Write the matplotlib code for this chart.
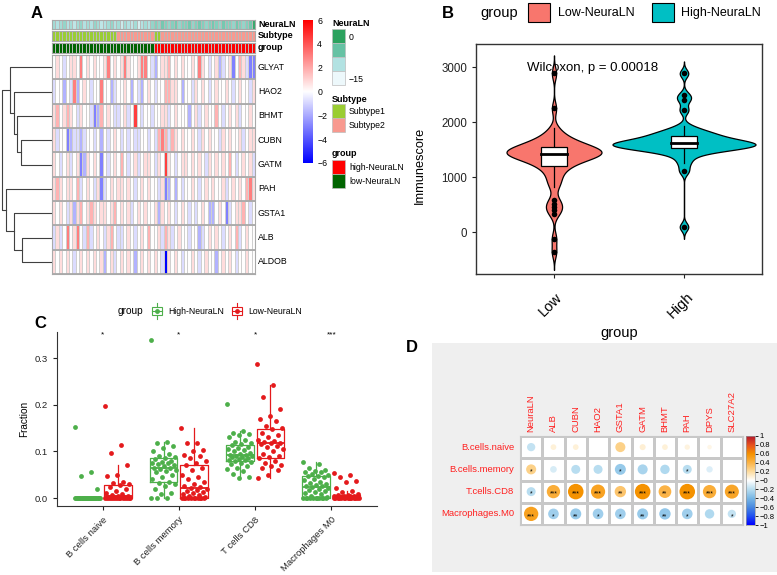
import numpy as np
import matplotlib.pyplot as plt
import matplotlib.transforms as mtransforms
from matplotlib.colors import LinearSegmentedColormap, ListedColormap
from matplotlib.patches import Rectangle, Circle

plt.rcParams['font.family'] = ['Liberation Sans', 'DejaVu Sans']

# ---------------- data: panel A (heatmap) ----------------
genes = ['GLYAT', 'HAO2', 'BHMT', 'CUBN', 'GATM', 'PAH', 'GSTA1', 'ALB', 'ALDOB']
# cell codes: . white, p/r/R/X reds, b/u/U/Z blues
level = {'.': 0, 'p': 0.8, 'r': 1.8, 'R': 3.0, 'X': 4.5,
         'b': -0.8, 'u': -1.8, 'U': -3.0, 'Z': -6.0}
expr_rows = [
    '.p.b.pp.R. p.p..pR.p. pRp..pRR.b u.ppr.p.p. .p.Rp.b.pu b.pU.rpbUU',
    'b..u.bRu.p .b..R..ub. .p.u.bu.p. b..rrpp.u. .bp.p.b.p. .p.b.p..bp',
    'pr.prp.bp. .bUur.p.bb .pb.X.b..b ..ppb.p... u.pb.p..r. b.p.pb..p.',
    'pb..Uubbub ..b.u.b.p. b.b.bb..b. brRrbrp.p. .p.bp.p..b p.p..pb.pp',
    'p.b.pb.pUu p.p.U.b.p. r.b.pb.pp. bp.Xp.b.pp .p.p.bp.p. p.r.b.p.pb',
    'prp.pp.rb. p.bpUb.p.p p.p.b.p.p. .bpUu.u.b. .p.b.p.p.. pb.p.p.rRp',
    'p.p.bpupr. prp.pp.pr. p.pb.p.p.. pup.p.b.p. b.b.p.uu.p .Ub.ppr.b.',
    'bpb.R.pR.b rb.p.bpr.b b.p.b.p.r. .pbrpb.p.. b..ub.p.p. b.p.rb.p..',
    'p.p.p.b.p. p.p.pu.pb. p.p.u.p.p. p.bZp.p.b. .p.b.p..u. p.p.b..p..',
]
neuraln_low = [-9, -10, -9, -8, -10, -9, -11, -9, -8, -10, -9, -10, -8, -9, -11,
               -10, -9, -8, -10, -9, -12, -9, -10, -11, -9, -13, -10, -9, -10, -8]
neuraln_high = [-7, -8, -6, -7, -8, -7, -6, -8, -7, -7, -6, -8, -7, -6, -7,
                -8, -7, -6, -7, -8, -6, -7, -7, -8, -6, -7, -8, -7, -6, -1]
subtype = [1] * 19 + [2] * 11 + [1] * 2 + [2] * 28
group_a = [0] * 30 + [1] * 30          # 0 low-NeuraLN, 1 high-NeuraLN
# dendrogram merges (left node, right node, height); leaves 0..8 in row order
merges = [(3, 4, 93), (2, 9, 105), (1, 10, 115), (0, 11, 125),
          (7, 8, 90), (6, 13, 115), (5, 14, 137), (12, 15, 150)]

# ---------------- data: panel B (violin) ----------------
low_score = [-358, -115, 339, 400, 461, 521, 582, 824, 900, 980, 1050, 1120, 1180,
             1200, 1230, 1260, 1290, 1310, 1330, 1350, 1370, 1380, 1390, 1400, 1410,
             1418, 1425, 1430, 1435, 1445, 1455, 1460, 1465, 1475, 1490, 1505, 1520,
             1540, 1552, 1560, 1570, 1580, 1600, 1620, 1650, 1680, 1700, 1750, 1800,
             1885, 2248, 2885]
high_score = [97, 1110, 1250, 1350, 1420, 1460, 1490, 1505, 1515, 1525, 1535, 1545,
              1555, 1565, 1575, 1585, 1595, 1605, 1610, 1615, 1620, 1630, 1640, 1650,
              1665, 1680, 1700, 1720, 1745, 1765, 1780, 1800, 1830, 1860, 1921, 2218,
              2400, 2491, 2885]

# ---------------- data: panel C (immune fractions) ----------------
cell_types = ['B cells naive', 'B cells memory', 'T cells CD8', 'Macrophages M0']
c_naive_high = [0.153, 0.055, 0.048, 0.019] + [0.0] * 30
c_naive_low = [0.197, 0.113, 0.097, 0.070, 0.050, 0.047, 0.035, 0.032, 0.030, 0.027,
               0.024, 0.020, 0.015, 0.010, 0.008, 0.006, 0.005, 0.004, 0.003, 0.002,
               0.002, 0.001, 0.001] + [0.0] * 12
c_memory_high = [0.339, 0.121, 0.118, 0.112, 0.108, 0.100, 0.095, 0.090, 0.088, 0.085,
                 0.083, 0.080, 0.078, 0.076, 0.075, 0.072, 0.070, 0.068, 0.065, 0.064,
                 0.063, 0.060, 0.058, 0.055, 0.050, 0.046, 0.040, 0.035, 0.033, 0.030,
                 0.025, 0.020, 0.010, 0.008, 0.0, 0.0, 0.0]
c_memory_low = [0.150, 0.119, 0.117, 0.103, 0.100, 0.093, 0.090, 0.085, 0.080, 0.075,
                0.070, 0.065, 0.060, 0.050, 0.045, 0.040, 0.035, 0.030, 0.025, 0.023,
                0.022, 0.020, 0.018, 0.015, 0.012, 0.010, 0.008, 0.006, 0.004, 0.002] + [0.0] * 11
c_cd8_high = [0.201, 0.143, 0.140, 0.138, 0.135, 0.130, 0.125, 0.120, 0.117, 0.115,
              0.113, 0.110, 0.108, 0.105, 0.102, 0.100, 0.097, 0.095, 0.093, 0.092,
              0.091, 0.090, 0.089, 0.088, 0.086, 0.084, 0.082, 0.081, 0.080, 0.078,
              0.075, 0.072, 0.068, 0.065, 0.062, 0.058, 0.052, 0.045, 0.042]
c_cd8_low = [0.287, 0.242, 0.217, 0.191, 0.175, 0.170, 0.165, 0.155, 0.150, 0.148,
             0.140, 0.135, 0.130, 0.125, 0.122, 0.120, 0.118, 0.117, 0.115, 0.112,
             0.110, 0.105, 0.100, 0.095, 0.090, 0.087, 0.085, 0.080, 0.075, 0.070,
             0.068, 0.065, 0.060, 0.050, 0.044]
c_m0_high = [0.078, 0.073, 0.065, 0.060, 0.058, 0.056, 0.055, 0.052, 0.050, 0.048,
             0.047, 0.045, 0.040, 0.038, 0.035, 0.033, 0.030, 0.028, 0.026, 0.025,
             0.024, 0.022, 0.020, 0.018, 0.015, 0.012, 0.010, 0.008, 0.005, 0.003] + [0.0] * 11
c_m0_low = [0.053, 0.050, 0.045, 0.037, 0.035, 0.022, 0.015, 0.012, 0.009, 0.007,
            0.006, 0.005, 0.005, 0.004, 0.004, 0.003, 0.003, 0.003, 0.002, 0.002,
            0.002, 0.001, 0.001, 0.001] + [0.0] * 12
c_signif = ['*', '*', '*', '***']

# ---------------- data: panel D (correlation) ----------------
d_rows = ['B.cells.naive', 'B.cells.memory', 'T.cells.CD8', 'Macrophages.M0']
d_cols = ['NeuraLN', 'ALB', 'CUBN', 'HAO2', 'GSTA1', 'GATM', 'BHMT', 'PAH', 'DPYS', 'SLC27A2']
d_r = [[-0.17, 0.08, 0.08, 0.0, 0.25, 0.09, 0.08, 0.07, 0.05, 0.0],
       [0.25, -0.11, -0.2, -0.2, -0.3, -0.25, -0.22, -0.2, -0.1, 0.0],
       [-0.2, 0.44, 0.6, 0.5, 0.32, 0.6, 0.4, 0.6, 0.44, 0.49],
       [0.51, -0.28, -0.3, -0.28, -0.28, -0.3, -0.32, -0.28, -0.22, -0.17]]
d_star = [['', '', '', '', '', '', '', '', '', ''],
          ['*', '', '', '', '*', '', '', '*', '', ''],
          ['*', '***', '***', '***', '**', '***', '**', '***', '***', '***'],
          ['***', '*', '**', '*', '*', '**', '**', '*', '', '*']]

# ---------------- figure ----------------
W, H = 777, 575
fig = plt.figure(figsize=(W / 100, H / 100), dpi=100)


def axes_px(x0, y0, x1, y1):
    return fig.add_axes([x0 / W, 1 - y1 / H, (x1 - x0) / W, (y1 - y0) / H])


bg = axes_px(0, 0, W, H)
bg.set_xlim(0, W); bg.set_ylim(H, 0); bg.axis('off'); bg.set_zorder(-5)
bg.add_patch(Rectangle((432, 343), 345, 229, facecolor='#EFEFEF', edgecolor='none'))

ov = axes_px(0, 0, W, H)
ov.set_xlim(0, W); ov.set_ylim(H, 0); ov.axis('off'); ov.set_zorder(20)

# ===== Panel A =====
expr = np.array([[level[c] for c in row.replace(' ', '')] for row in expr_rows])
ncol = expr.shape[1]
cmap_expr = LinearSegmentedColormap.from_list('bwr_ch', ['#0000FF', '#FFFFFF', '#FF0000'])
cmap_nl = LinearSegmentedColormap.from_list('bugn', ['#EDF8FB', '#B2E2E2', '#66C2A4', '#2CA25F'])

axd = axes_px(2, 55, 52, 274)
ypos = {i: i + 0.5 for i in range(len(genes))}
hgt = {i: 0 for i in range(len(genes))}
for k, (a, b, h) in enumerate(merges):
    axd.plot([hgt[a], h, h, hgt[b]], [ypos[a], ypos[a], ypos[b], ypos[b]],
             color='#404040', lw=0.8, clip_on=False)
    node = len(genes) + k
    ypos[node] = (ypos[a] + ypos[b]) / 2
    hgt[node] = h
axd.set_xlim(150, 0); axd.set_ylim(len(genes), 0); axd.axis('off')

axh = axes_px(52, 55, 255, 274)
axh.pcolormesh(expr, cmap=cmap_expr, vmin=-6, vmax=6, edgecolors='#CFCFCF', linewidth=0.4)
for r in range(len(genes) + 1):
    axh.axhline(r, color='#A9A9A9', lw=1.3)
axh.set_xlim(0, ncol); axh.set_ylim(len(genes), 0)
axh.set_xticks([]); axh.set_yticks([])
for s in axh.spines.values():
    s.set_color('#A9A9A9')
for i, g in enumerate(genes):
    ov.text(258, 55 + (i + 0.5) * 219 / len(genes), g, ha='left', va='center', fontsize=6.3)

annos = [
    (20, 29, 'NeuraLN', np.array(neuraln_low + neuraln_high), cmap_nl, -15, 0),
    (31, 41, 'Subtype', np.array(subtype), ListedColormap(['#9ACD32', '#F8998F']), 0.5, 2.5),
    (43, 53, 'group', np.array(group_a), ListedColormap(['#006400', '#FF0000']), -0.5, 1.5),
]
for y0, y1, name, vals, cm, vmin, vmax in annos:
    axa = axes_px(52, y0, 255, y1)
    axa.pcolormesh(vals[None, :], cmap=cm, vmin=vmin, vmax=vmax, edgecolors='#B8B8B8', linewidth=0.4)
    axa.set_xticks([]); axa.set_yticks([])
    for s in axa.spines.values():
        s.set_color('#A9A9A9')
    ov.text(258, (y0 + y1) / 2, name, ha='left', va='center', fontsize=6.5, fontweight='bold')

axc = axes_px(303, 20, 313, 163)
axc.imshow(np.linspace(-6, 6, 256)[:, None], aspect='auto', cmap=cmap_expr,
           origin='lower', extent=[0, 1, -6, 6])
axc.set_xticks([]); axc.yaxis.tick_right()
axc.set_yticks([-6, -4, -2, 0, 2, 4, 6])
axc.tick_params(length=0, labelsize=6.3, pad=3)
for s in axc.spines.values():
    s.set_visible(False)

# annotation legends
ov.text(332, 23, 'NeuraLN', fontsize=6.5, fontweight='bold', va='center')
for k, c in enumerate(['#2CA25F', '#66C2A4', '#B2E2E2', '#EDF8FB']):
    ov.add_patch(Rectangle((332, 29 + 14 * k), 13, 14, facecolor=c, edgecolor='#BDBDBD', lw=0.5))
ov.text(349, 37, '0', fontsize=6.3, va='center')
ov.text(349, 79, '\u221215', fontsize=6.3, va='center')
ov.text(332, 99, 'Subtype', fontsize=6.5, fontweight='bold', va='center')
for k, (c, t) in enumerate([('#9ACD32', 'Subtype1'), ('#F8998F', 'Subtype2')]):
    ov.add_patch(Rectangle((332, 104 + 14 * k), 13, 14, facecolor=c, edgecolor='#BDBDBD', lw=0.5))
    ov.text(349, 111 + 14 * k, t, fontsize=6.3, va='center')
ov.text(332, 154, 'group', fontsize=6.5, fontweight='bold', va='center')
for k, (c, t) in enumerate([('#FF0000', 'high-NeuraLN'), ('#006400', 'low-NeuraLN')]):
    ov.add_patch(Rectangle((332, 160 + 14 * k), 13, 14, facecolor=c, edgecolor='#BDBDBD', lw=0.5))
    ov.text(349, 167 + 14 * k, t, fontsize=6.3, va='center')

# ===== Panel B =====
axB = axes_px(476, 44, 762, 274)
colors_b = ['#F8766D', '#00BFC4']
dens = []
for vals in (low_score, high_score):
    v = np.asarray(vals, float)
    iqr = np.subtract(*np.percentile(v, [75, 25]))
    bw = 0.9 * min(v.std(ddof=1), iqr / 1.34) * len(v) ** -0.2   # like R's bw.nrd0
    grid = np.linspace(v.min() - 3 * bw, v.max() + 3 * bw, 500)
    d = np.exp(-0.5 * ((grid[:, None] - v[None, :]) / bw) ** 2).sum(1) / (len(v) * bw * np.sqrt(2 * np.pi))
    dens.append((v, grid, d))
dmax = max(d.max() for _, _, d in dens)
for i, ((v, grid, d), col) in enumerate(zip(dens, colors_b)):
    x = i + 1
    hw = d / dmax * 0.55
    axB.fill_betweenx(grid, x - hw, x + hw, facecolor=col, edgecolor='black', lw=0.9, zorder=2)
    q1, med, q3 = np.percentile(v, [25, 50, 75])
    iqr = q3 - q1
    lo = v[v >= q1 - 1.5 * iqr].min()
    hi = v[v <= q3 + 1.5 * iqr].max()
    axB.plot([x, x], [lo, q1], color='black', lw=0.9, zorder=3)
    axB.plot([x, x], [q3, hi], color='black', lw=0.9, zorder=3)
    axB.add_patch(Rectangle((x - 0.1, q1), 0.2, q3 - q1, facecolor='white',
                            edgecolor='black', lw=0.9, zorder=4))
    axB.plot([x - 0.1, x + 0.1], [med, med], color='black', lw=2.0, zorder=5)
    out = v[(v < lo) | (v > hi)]
    axB.scatter(np.full(len(out), x), out, s=16, color='black', zorder=6, linewidths=0)
axB.text(0.79, 2990, 'Wilcoxon, p = 0.00018', fontsize=9.5, ha='left', va='center', zorder=1)
axB.set_xlim(0.4, 2.6); axB.set_ylim(-760, 3420)
axB.set_yticks([0, 1000, 2000, 3000])
axB.set_xticks([1, 2]); axB.set_xticklabels([])
axB.tick_params(length=3, labelsize=8.3, colors='#222222')
for s in axB.spines.values():
    s.set_color('#333333'); s.set_linewidth(1.0)
ov.text(420, 165, 'Immunescore', rotation=90, ha='center', va='center', fontsize=9.2)
tr = mtransforms.blended_transform_factory(axB.transData, fig.transFigure)
for x, lab in zip([1, 2], ['Low', 'High']):
    fig.text(x - 0.03, 1 - 305 / H, lab, transform=tr, rotation=45, ha='center', va='center', fontsize=10.5)
ov.text(619, 333, 'group', ha='center', va='center', fontsize=10.5)
# legend B
ov.text(448, 14, 'B', fontsize=12, fontweight='bold', ha='center', va='center')
ov.text(480, 13, 'group', fontsize=10.5, va='center')
ov.add_patch(Rectangle((528, 3), 22, 19, facecolor=colors_b[0], edgecolor='black', lw=0.8))
ov.text(558, 13, 'Low-NeuraLN', fontsize=9, va='center')
ov.add_patch(Rectangle((652, 3), 22, 19, facecolor=colors_b[1], edgecolor='black', lw=0.8))
ov.text(681, 13, 'High-NeuraLN', fontsize=9, va='center')

# ===== Panel C =====
axC = axes_px(57, 332, 377, 506)
green, red = '#4DAF4A', '#E41A1C'
high_sets = [c_naive_high, c_memory_high, c_cd8_high, c_m0_high]
low_sets = [c_naive_low, c_memory_low, c_cd8_low, c_m0_low]
for i in range(len(cell_types)):
    for vals, dx, col in ((high_sets[i], -0.2, green), (low_sets[i], 0.2, red)):
        v = np.asarray(vals, float)
        pos = i + 1 + dx
        axC.boxplot(v, positions=[pos], widths=0.36, showfliers=False, showcaps=False,
                    boxprops=dict(color=col, lw=0.9), whiskerprops=dict(color=col, lw=0.9),
                    medianprops=dict(color=col, lw=1.3), manage_ticks=False)
        jit = ((np.arange(len(v)) * 0.618034) % 1 - 0.5) * 0.34
        axC.scatter(pos + jit, v, s=12, color=col, zorder=3, linewidths=0)
    axC.text(i + 1, 0.35, c_signif[i], ha='center', va='center', fontsize=6)
axC.set_xlim(0.4, 4.6); axC.set_ylim(-0.017, 0.356)
axC.set_yticks([0, 0.1, 0.2, 0.3]); axC.set_yticklabels(['0.0', '0.1', '0.2', '0.3'])
axC.set_xticks(range(1, 5))
axC.set_xticklabels(cell_types, rotation=45, ha='right', va='top', rotation_mode='anchor')
axC.tick_params(length=3, labelsize=6.8, colors='#222222')
axC.spines['top'].set_visible(False); axC.spines['right'].set_visible(False)
for s in ('left', 'bottom'):
    axC.spines[s].set_color('#333333')
axC.set_ylabel('Fraction', fontsize=7.2)
ov.text(40, 324, 'C', fontsize=12, fontweight='bold', ha='center', va='center')
ov.text(118, 311, 'group', fontsize=7.3, va='center')
for x0, col, lab in ((152, green, 'High-NeuraLN'), (232, red, 'Low-NeuraLN')):
    ov.add_patch(Rectangle((x0, 307), 10, 8, facecolor='none', edgecolor=col, lw=0.8))
    ov.plot([x0 + 5, x0 + 5], [303, 307], color=col, lw=0.8)
    ov.plot([x0 + 5, x0 + 5], [315, 319], color=col, lw=0.8)
    ov.plot([x0, x0 + 10], [311, 311], color=col, lw=0.8)
    ov.plot([x0 + 5], [311], 'o', color=col, ms=2.5)
    ov.text(x0 + 16, 311, lab, fontsize=6.2, va='center')

# ===== Panel D =====
cmap_d = LinearSegmentedColormap.from_list('corr', [
    (0.0, '#0000FF'), (0.1, '#2050F0'), (0.2, '#4A8AE0'), (0.3, '#78B7E5'),
    (0.4, '#B8DDF0'), (0.5, '#FFFFFF'), (0.6, '#FDDCA0'), (0.7, '#FBB448'),
    (0.8, '#F59200'), (0.9, '#E8521E'), (1.0, '#B2182B')])
axD = axes_px(520, 436, 743, 525)
axD.pcolormesh(np.zeros((len(d_rows), len(d_cols))), cmap=ListedColormap(['white']),
               edgecolors='#C8C8C8', linewidth=0.8)
for i in range(len(d_rows)):
    for j in range(len(d_cols)):
        r = d_r[i][j]
        if r != 0:
            axD.add_patch(Circle((j + 0.5, i + 0.5), 0.45 * np.sqrt(abs(r)),
                                 facecolor=cmap_d((r + 1) / 2), edgecolor='none'))
        if d_star[i][j]:
            axD.text(j + 0.5, i + 0.62, d_star[i][j], ha='center', va='center', fontsize=5)
    axD.text(-0.25, i + 0.5, d_rows[i], ha='right', va='center', color='#FF2020', fontsize=6.8)
for j, c in enumerate(d_cols):
    axD.text(j + 0.5, -0.18, c, rotation=90, ha='center', va='bottom', color='#FF2020', fontsize=6.8)
axD.set_xlim(0, len(d_cols)); axD.set_ylim(len(d_rows), 0)
axD.set_xticks([]); axD.set_yticks([])
for s in axD.spines.values():
    s.set_color('#C8C8C8')
axcd = axes_px(746, 436, 755, 525)
axcd.imshow(np.linspace(-1, 1, 256)[:, None], aspect='auto', cmap=cmap_d,
            origin='lower', extent=[0, 1, -1, 1])
axcd.set_xticks([]); axcd.yaxis.tick_right()
ticks_d = np.round(np.arange(-1, 1.01, 0.2), 1)
axcd.set_yticks(ticks_d)
axcd.set_yticklabels([('%g' % t).replace('-', '\u2212') for t in ticks_d])
axcd.tick_params(length=2, width=0.6, labelsize=5.5, pad=1.5)
for s in axcd.spines.values():
    s.set_color('#999999'); s.set_linewidth(0.5)
ov.text(412, 347, 'D', fontsize=12, fontweight='bold', ha='center', va='center')
ov.text(37, 14, 'A', fontsize=12, fontweight='bold', ha='center', va='center')

fig.savefig('out.png', dpi=100)
